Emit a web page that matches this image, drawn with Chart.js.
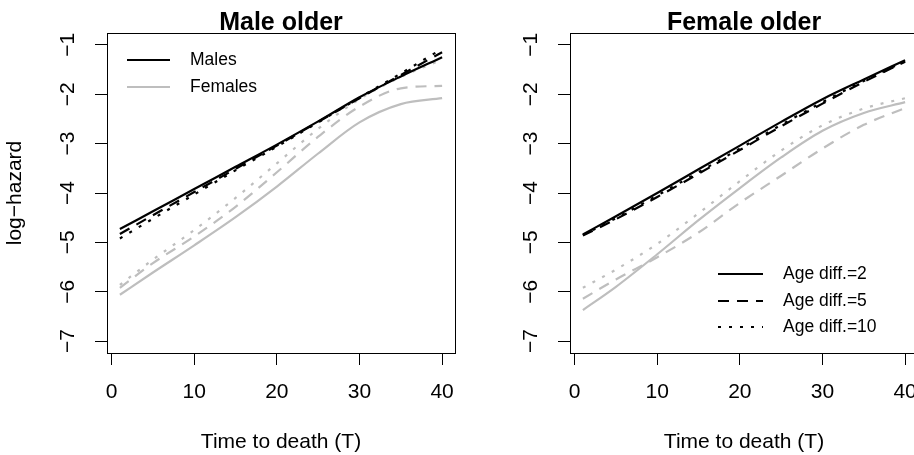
<!DOCTYPE html>
<html>
<head>
<meta charset="utf-8">
<script src="https://cdn.jsdelivr.net/npm/chart.js@4.4.1/dist/chart.umd.min.js"></script>
<style>
  html, body { margin: 0; padding: 0; background: #fff; }
  #wrap { position: relative; width: 914px; height: 455px; overflow: hidden; }
  canvas { position: absolute; top: 0; }
  #left { left: 0; }
  #right { left: 463px; }
</style>
</head>
<body>
<div id="wrap">
  <canvas id="left" width="463" height="455"></canvas>
  <canvas id="right" width="463" height="455"></canvas>
</div>
<script>
Chart.defaults.font.family = "'Liberation Sans', Arial, Helvetica, sans-serif";
Chart.defaults.color = '#000';

// time to death (x) and axis ticks
const TIME    = [1, 5, 10, 15, 20, 25, 30, 35, 40];
const X_TICKS = [0, 10, 20, 30, 40];
const Y_TICKS = [-7, -6, -5, -4, -3, -2, -1];

// panel 1: male older — log-hazard by age difference
const MO_MALE_2   = [-4.73, -4.37, -3.92, -3.47, -3.02, -2.55, -2.06, -1.64, -1.25];
const MO_MALE_5   = [-4.83, -4.45, -3.98, -3.51, -3.04, -2.56, -2.08, -1.61, -1.15];
const MO_MALE_10  = [-4.92, -4.52, -4.03, -3.54, -3.06, -2.57, -2.07, -1.58, -1.08];
const MO_FEM_2    = [-6.06, -5.61, -5.06, -4.49, -3.87, -3.20, -2.57, -2.20, -2.08];
const MO_FEM_5    = [-5.92, -5.42, -4.88, -4.28, -3.58, -2.86, -2.25, -1.88, -1.83];
const MO_FEM_10   = [-5.86, -5.35, -4.75, -4.10, -3.40, -2.70, -2.10, -1.65, -1.30];

// panel 2: female older
const FO_MALE_2   = [-4.84, -4.47, -4.00, -3.52, -3.04, -2.56, -2.10, -1.70, -1.31];
const FO_MALE_5   = [-4.86, -4.53, -4.08, -3.61, -3.13, -2.65, -2.19, -1.75, -1.34];
const FO_MALE_10  = [-4.85, -4.51, -4.05, -3.58, -3.10, -2.62, -2.16, -1.73, -1.33];
const FO_FEM_2    = [-6.37, -5.90, -5.24, -4.55, -3.90, -3.28, -2.74, -2.38, -2.16];
const FO_FEM_5    = [-6.14, -5.75, -5.30, -4.80, -4.20, -3.65, -3.10, -2.62, -2.28];
const FO_FEM_10   = [-5.92, -5.55, -5.03, -4.41, -3.76, -3.14, -2.63, -2.29, -2.08];

const BLACK = '#000000';
const GREY  = '#bebebe';
const DASH  = { solid: [], dashed: [11, 8], dotted: [3, 8] };
const FONT  = "'Liberation Sans', Arial, Helvetica, sans-serif";

function series(label, values, color, dash) {
  return {
    label,
    data: TIME.map((t, i) => ({ x: t, y: values[i] })),
    borderColor: color, borderWidth: 2.2, borderDash: dash,
    pointRadius: 0, fill: false, cubicInterpolationMode: 'monotone',
  };
}

// R-style box, title, rotated y tick labels and legend
const rDecor = {
  id: 'rDecor',
  afterDraw(chart, args, opts) {
    const { ctx, chartArea: a, scales } = chart;
    ctx.save();
    ctx.strokeStyle = '#000';
    ctx.lineWidth = 1;
    ctx.strokeRect(Math.round(a.left) + 0.5, Math.round(a.top) + 0.5,
      Math.round(a.right - a.left), Math.round(a.bottom - a.top));

    ctx.fillStyle = '#000';
    ctx.font = 'bold 25px ' + FONT;
    ctx.textAlign = 'center';
    ctx.textBaseline = 'alphabetic';
    ctx.fillText(opts.title, (a.left + a.right) / 2, 30);

    ctx.font = '21px ' + FONT;
    ctx.textBaseline = 'middle';
    Y_TICKS.forEach(v => {
      const y = scales.y.getPixelForValue(v);
      ctx.save();
      ctx.translate(a.left - 39, y);
      ctx.rotate(-Math.PI / 2);
      ctx.fillText(String(v).replace('-', '\u2212'), 0, 0);
      ctx.restore();
    });

    const lg = opts.legend;
    ctx.font = '17.5px ' + FONT;
    ctx.textAlign = 'left';
    lg.rows.forEach(r => {
      ctx.beginPath();
      ctx.strokeStyle = r.color;
      ctx.lineWidth = 2.2;
      ctx.setLineDash(r.dash);
      ctx.moveTo(lg.x1, r.y);
      ctx.lineTo(lg.x2, r.y);
      ctx.stroke();
      ctx.setLineDash([]);
      ctx.fillText(r.text, lg.tx, r.y + 0.5);
    });
    ctx.restore();
  }
};

function makePanel(id, datasets, decor, yTitle) {
  return new Chart(document.getElementById(id), {
    type: 'line',
    data: { datasets },
    options: {
      responsive: false, animation: false, devicePixelRatio: 1,
      layout: { padding: { top: 33, right: 8, bottom: 0, left: 0 } },
      plugins: { legend: { display: false }, tooltip: { enabled: false }, rDecor: decor },
      scales: {
        x: {
          type: 'linear', min: -0.56, max: 41.56,
          afterBuildTicks: s => { s.ticks = X_TICKS.map(v => ({ value: v })); },
          afterFit: s => { s.height = 102; s.paddingLeft = 0; s.paddingRight = 0; },
          grid: { display: true, drawOnChartArea: false, drawTicks: true, tickLength: 12, color: '#000', lineWidth: 1 },
          border: { display: false },
          ticks: { font: { size: 21 }, color: '#000', padding: 15, maxRotation: 0, autoSkip: false },
          title: { display: true, text: 'Time to death (T)', font: { size: 21 }, color: '#000', padding: { top: 0, bottom: 0 } },
        },
        y: {
          type: 'linear', min: -7.24, max: -0.76,
          afterBuildTicks: s => { s.ticks = Y_TICKS.map(v => ({ value: v })); },
          afterFit: s => { s.width = 107; s.paddingTop = 0; s.paddingBottom = 0; },
          grid: { display: true, drawOnChartArea: false, drawTicks: true, tickLength: 12, color: '#000', lineWidth: 1 },
          border: { display: false },
          ticks: { display: false },
          title: { display: !!yTitle, text: yTitle || '', font: { size: 21 }, color: '#000', padding: { top: 3, bottom: 0 } },
        },
      },
    },
    plugins: [rDecor],
  });
}

makePanel('left', [
  series('Males, age diff. 2', MO_MALE_2, BLACK, DASH.solid),
  series('Males, age diff. 5', MO_MALE_5, BLACK, DASH.dashed),
  series('Males, age diff. 10', MO_MALE_10, BLACK, DASH.dotted),
  series('Females, age diff. 2', MO_FEM_2, GREY, DASH.solid),
  series('Females, age diff. 5', MO_FEM_5, GREY, DASH.dashed),
  series('Females, age diff. 10', MO_FEM_10, GREY, DASH.dotted),
], {
  title: 'Male older',
  legend: { x1: 127, x2: 170, tx: 190, rows: [
    { y: 60, text: 'Males', color: BLACK, dash: DASH.solid },
    { y: 87, text: 'Females', color: GREY, dash: DASH.solid },
  ] },
}, 'log\u2212hazard');

makePanel('right', [
  series('Males, age diff. 2', FO_MALE_2, BLACK, DASH.solid),
  series('Males, age diff. 5', FO_MALE_5, BLACK, DASH.dashed),
  series('Males, age diff. 10', FO_MALE_10, BLACK, DASH.dotted),
  series('Females, age diff. 2', FO_FEM_2, GREY, DASH.solid),
  series('Females, age diff. 5', FO_FEM_5, GREY, DASH.dashed),
  series('Females, age diff. 10', FO_FEM_10, GREY, DASH.dotted),
], {
  title: 'Female older',
  legend: { x1: 255, x2: 300, tx: 320, rows: [
    { y: 274, text: 'Age diff.=2', color: BLACK, dash: DASH.solid },
    { y: 301, text: 'Age diff.=5', color: BLACK, dash: DASH.dashed },
    { y: 327, text: 'Age diff.=10', color: BLACK, dash: DASH.dotted },
  ] },
}, null);
</script>
</body>
</html>
